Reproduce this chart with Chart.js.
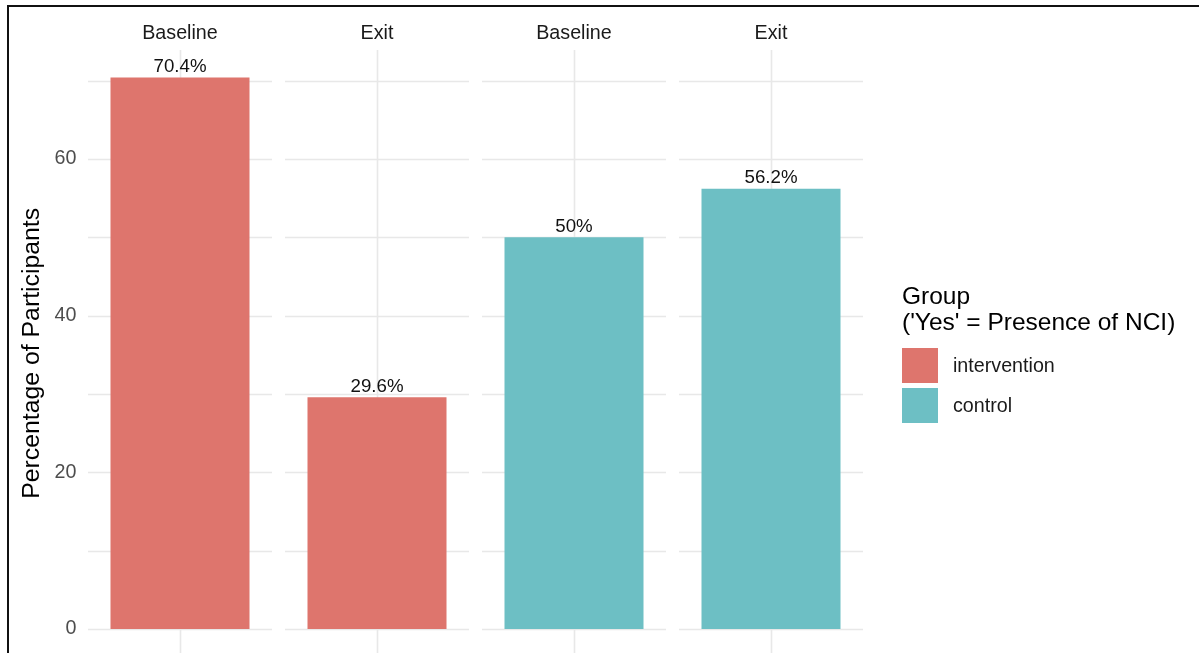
<!DOCTYPE html>
<html>
<head>
<meta charset="utf-8">
<script src="https://cdn.jsdelivr.net/npm/chart.js@4.4.0/dist/chart.umd.min.js"></script>
<style>
  html, body { margin: 0; padding: 0; background: #fff; overflow: hidden; }
  #wrap { position: relative; width: 1199px; height: 653px; overflow: hidden; font-family: "Liberation Sans", Arial, sans-serif; }
  #frame { position: absolute; left: 7px; top: 5px; width: 1300px; height: 800px; border-top: 2px solid #111; border-left: 2px solid #111; }
  #chart { position: absolute; left: 0; top: 0; }
  #legend { position: absolute; left: 902px; top: 283px; color: #000; }
  #legend .title { font-size: 24.5px; line-height: 26px; }
  #legend .item { display: flex; align-items: center; height: 40px; }
  #legend .key { width: 36px; height: 35px; margin-right: 15px; }
  #legend .lbl { font-size: 19.7px; color: #1a1a1a; }
</style>
</head>
<body>
<div id="wrap">
  <div id="frame"></div>
  <canvas id="chart" width="1199" height="680"></canvas>
  <div id="legend"></div>
</div>
<script>
// data
const panels = ["Baseline", "Exit", "Baseline", "Exit"];
const groups = ["intervention", "control"];
const intervention = [70.4, 29.6, null, null];
const control = [null, null, 50, 56.2];
const yTicks = [0, 20, 40, 60];
const colors = ["#DE756D", "#6DBFC4"];
const legendTitle = ["Group", "('Yes' = Presence of NCI)"];

const yMax = 70.4 * 1.05;
const yMin = -70.4 * 0.05;

// grid lines broken per facet panel, like ggplot facets
const facetGrid = {
  id: "facetGrid",
  beforeDatasetsDraw(chart) {
    const { ctx, chartArea } = chart;
    const x = chart.scales.x, y = chart.scales.y;
    const half = (x.width / panels.length) / 2 - 6.5;
    const lines = [];
    yTicks.forEach((v, i) => {
      lines.push(v);
      const next = i < yTicks.length - 1 ? yTicks[i + 1] : v + (v - yTicks[i - 1]);
      lines.push((v + next) / 2);
    });
    ctx.save();
    ctx.strokeStyle = "#E8E8E8";
    panels.forEach((p, i) => {
      const cx = x.getPixelForValue(i);
      lines.forEach(v => {
        if (v > yMax) return;
        const py = Math.round(y.getPixelForValue(v)) + 0.5;
        ctx.lineWidth = yTicks.includes(v) ? 1.6 : 1.3;
        ctx.beginPath();
        ctx.moveTo(cx - half, py);
        ctx.lineTo(cx + half, py);
        ctx.stroke();
      });
      ctx.lineWidth = 1.6;
      ctx.beginPath();
      ctx.moveTo(Math.round(cx) + 0.5, chartArea.top);
      ctx.lineTo(Math.round(cx) + 0.5, chartArea.bottom);
      ctx.stroke();
      // strip labels
      ctx.fillStyle = "#1A1A1A";
      ctx.font = "19.7px 'Liberation Sans', Arial, sans-serif";
      ctx.textAlign = "center";
      ctx.textBaseline = "alphabetic";
      ctx.fillText(p, cx, 38.5);
    });
    ctx.restore();
  },
  afterDatasetsDraw(chart) {
    const { ctx } = chart;
    ctx.save();
    ctx.fillStyle = "#111";
    ctx.font = "18.7px 'Liberation Sans', Arial, sans-serif";
    ctx.textAlign = "center";
    ctx.textBaseline = "alphabetic";
    chart.data.datasets.forEach((ds, di) => {
      chart.getDatasetMeta(di).data.forEach((bar, i) => {
        const v = ds.data[i];
        if (v == null) return;
        ctx.fillText(v + "%", bar.x, bar.y - 5.5);
      });
    });
    ctx.restore();
  }
};

const chart = new Chart(document.getElementById("chart"), {
  type: "bar",
  data: {
    labels: panels,
    datasets: [
      { label: groups[0], data: intervention, backgroundColor: colors[0] },
      { label: groups[1], data: control, backgroundColor: colors[1] }
    ]
  },
  options: {
    responsive: false,
    animation: false,
    skipNull: true,
    categoryPercentage: 139 / 197,
    barPercentage: 1,
    layout: { padding: { left: 0, top: 50, right: 329.5, bottom: 23.4 } },
    plugins: { legend: { display: false }, tooltip: { enabled: false } },
    scales: {
      x: { display: false, offset: true },
      y: {
        min: yMin,
        max: yMax,
        afterBuildTicks(scale) { scale.ticks = yTicks.map(v => ({ value: v })); },
        afterFit(scale) { scale.width = 81.5; },
        grid: { display: false, drawTicks: false },
        border: { display: false },
        ticks: {
          padding: 5,
          color: "#4D4D4D",
          font: { family: "'Liberation Sans', Arial, sans-serif", size: 19.7 }
        },
        title: {
          display: true,
          text: "Percentage of Participants",
          color: "#000",
          padding: { top: 17, bottom: 0 },
          font: { family: "'Liberation Sans', Arial, sans-serif", size: 24.8 }
        }
      }
    }
  },
  plugins: [facetGrid]
});

// legend
const legend = document.getElementById("legend");
legend.innerHTML = legendTitle.map(t => `<div class="title">${t}</div>`).join("") +
  `<div style="height:10px"></div>` +
  groups.map((g, i) => `
    <div class="item"><div class="key" style="background:${colors[i]}"></div><div class="lbl">${g}</div></div>`).join("");
</script>
</body>
</html>
